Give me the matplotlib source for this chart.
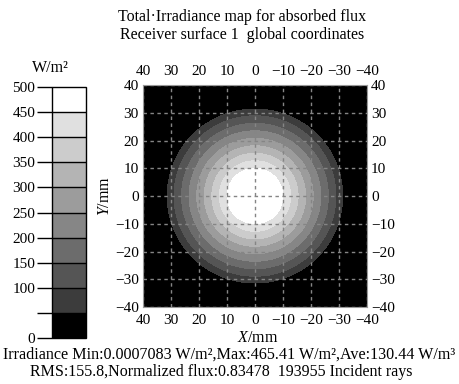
import matplotlib
matplotlib.use("Agg")
import matplotlib.pyplot as plt
from matplotlib.colors import ListedColormap, BoundaryNorm
import numpy as np

plt.rcParams['font.family'] = ['Liberation Serif', 'DejaVu Serif']
plt.rcParams['mathtext.fontset'] = 'custom'
plt.rcParams['mathtext.rm'] = 'Liberation Serif'
plt.rcParams['mathtext.it'] = 'Liberation Serif:italic'
plt.rcParams['font.size'] = 11

# Radial irradiance profile (radius in mm -> W/m^2)
profile_r = [0, 10, 12.7, 15.4, 18.1, 20.8, 23.5, 26.2, 28.9, 31.3, 31.6, 60]
profile_val = [465.41, 450, 400, 350, 300, 250, 200, 150, 100, 60, 0.0007, 0.0007]

levels = [0, 50, 100, 150, 200, 250, 300, 350, 400, 450, 500]
band_colors = ['#000000', '#3c3c3c', '#555555', '#6c6c6c', '#868686',
               '#9c9c9c', '#b4b4b4', '#cccccc', '#e0e0e0', '#ffffff']
cbar_labels = ['0', '', '100', '150', '200', '250', '300', '350', '400', '450', '500']
axis_ticks = [40, 30, 20, 10, 0, -10, -20, -30, -40]

title_lines = "Total\u00b7Irradiance map for absorbed flux\nReceiver surface 1  global coordinates"
stats_line1 = "Irradiance Min:0.0007083 W/m\u00b2,Max:465.41 W/m\u00b2,Ave:130.44 W/m\u00b3"
stats_line2 = "RMS:155.8,Normalized flux:0.83478  193955 Incident rays"

# grid of the receiver surface
x = np.linspace(-40, 40, 401)
y = np.linspace(-40, 40, 401)
X, Y = np.meshgrid(x, y)
R = np.sqrt(X**2 + Y**2)
Z = np.interp(R, profile_r, profile_val)

cmap = ListedColormap(band_colors)
norm = BoundaryNorm(levels, cmap.N)

fig = plt.figure(figsize=(4.59, 3.84), dpi=100)
ax = fig.add_axes([0.3115, 0.2005, 0.488, 0.578])
cs = ax.contourf(X, Y, Z, levels=levels, cmap=cmap, norm=norm)
ax.set_xlim(40, -40)
ax.set_ylim(-40, 40)
ax.set_xticks(axis_ticks)
ax.set_yticks(axis_ticks)
ax.grid(True, color='#858585', linestyle=(0, (2.5, 2.5)), linewidth=1.0)
ax.tick_params(axis='both', length=0, top=True, right=True,
               labeltop=True, labelright=True)
ax.tick_params(axis='x', pad=5)
ax.tick_params(axis='y', pad=3)
for s in ax.spines.values():
    s.set_color('#999999')
ax.set_xlabel("$X$/mm", fontsize=11.5)
ax.xaxis.set_label_coords(0.51, -0.105)
ax.set_ylabel("$Y$/mm", fontsize=11.5)
ax.yaxis.set_label_coords(-0.135, 0.5)

# colour bar on the left
cax = fig.add_axes([0.1133, 0.1198, 0.0741, 0.6536])
cb = fig.colorbar(cs, cax=cax, ticks=levels, drawedges=True)
cb.outline.set_linewidth(1.0)
cb.dividers.set_linewidth(1.0)
cax.yaxis.set_ticks_position('left')
cax.yaxis.set_label_position('left')
cax.set_yticklabels(cbar_labels)
cax.tick_params(length=11, width=1.0, pad=1)
fig.text(0.109, 0.823, "W/m\u00b2", ha='center', va='center', fontsize=11.5)

fig.text(0.527, 0.933, title_lines, ha='center', va='center', linespacing=1.2,
         fontsize=11.5)
fig.text(0.5, 0.076, stats_line1, ha='center', va='center', fontsize=11.6)
fig.text(0.482, 0.032, stats_line2, ha='center', va='center', fontsize=11.5)

fig.savefig("out.png", dpi=100)
